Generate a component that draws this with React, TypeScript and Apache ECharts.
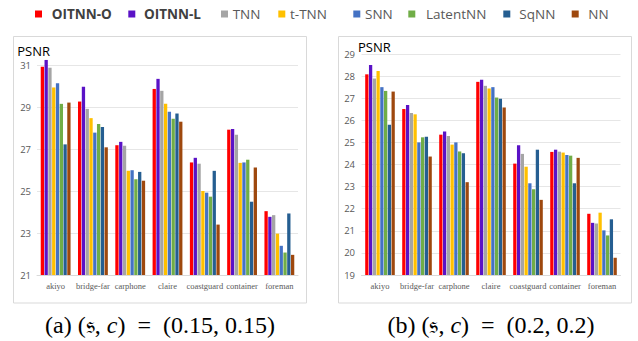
import React, { useEffect, useRef } from "react";
import * as echarts from "echarts";

const categories = ["akiyo", "bridge-far", "carphone", "claire", "coastguard", "container", "foreman"];
const methods = ["OITNN-O", "OITNN-L", "TNN", "t-TNN", "SNN", "LatentNN", "SqNN", "NN"];
const colors = ["#ff0000", "#5a12c6", "#a5a5a5", "#ffc000", "#4472c4", "#70ad47", "#255e91", "#9e480e"];

// (s, c) = (0.15, 0.15)
const leftOITNNO = [30.92, 29.26, 27.18, 29.86, 26.36, 27.92, 24.04];
const leftOITNNL = [31.24, 29.97, 27.34, 30.34, 26.58, 27.95, 23.77];
const leftTNN = [30.87, 28.91, 27.15, 29.77, 26.3, 27.68, 23.85];
const leftTTNN = [29.93, 28.47, 25.96, 29.15, 25.0, 26.34, 22.97];
const leftSNN = [30.13, 27.78, 25.99, 28.77, 24.92, 26.36, 22.39];
const leftLatentNN = [29.15, 28.19, 25.56, 28.44, 24.73, 26.49, 22.07];
const leftSqNN = [27.22, 28.05, 25.91, 28.69, 25.96, 24.49, 23.93];
const leftNN = [29.21, 27.08, 25.49, 28.3, 23.4, 26.12, 21.96];

// (s, c) = (0.2, 0.2)
const rightOITNNO = [28.08, 26.51, 25.35, 27.74, 24.04, 24.57, 21.77];
const rightOITNNL = [28.5, 26.69, 25.49, 27.83, 24.87, 24.67, 21.36];
const rightTNN = [27.89, 26.33, 25.29, 27.56, 24.48, 24.58, 21.33];
const rightTTNN = [28.23, 26.27, 24.9, 27.44, 23.9, 24.54, 21.82];
const rightSNN = [27.5, 25.0, 25.0, 27.5, 23.15, 24.43, 21.02];
const rightLatentNN = [27.33, 25.23, 24.59, 27.03, 22.88, 24.4, 20.79];
const rightSqNN = [25.8, 25.26, 24.51, 26.97, 24.67, 23.15, 21.52];
const rightNN = [27.3, 24.36, 23.2, 26.58, 22.4, 24.3, 19.78];

const leftData = [leftOITNNO, leftOITNNL, leftTNN, leftTTNN, leftSNN, leftLatentNN, leftSqNN, leftNN];
const rightData = [rightOITNNO, rightOITNNL, rightTNN, rightTTNN, rightSNN, rightLatentNN, rightSqNN, rightNN];

// left axis: labelled ticks 21..31 step 2, plot area extends slightly above 31
const leftTickValues = [21, 23, 25, 27, 29, 31];
const leftAxisMin = 21;
const leftAxisTop = 31.4;
const rightTicks = { min: 19, max: 29, interval: 1 };

const yTitle = "PSNR";
const captionA = "(a) (\u{1D530}, {i|c})  =  (0.15, 0.15)";
const captionB = "(b) (\u{1D530}, {i|c})  =  (0.2, 0.2)";

const legendSquareX = [35, 128.3, 221, 278.3, 353.3, 408.3, 503.3, 571.7];
const legendTextX = [51.7, 144, 232.7, 290, 365, 426, 519.3, 588.3];

export default function App() {
  const ref = useRef<HTMLDivElement>(null);
  useEffect(() => {
    if (!ref.current) return;
    const chart = echarts.init(ref.current, null, { renderer: "svg" });
    const labelGrey = "#595959";
    const gridGrey = "#e6e6e6";
    const sans = "'Open Sans', 'Noto Sans', sans-serif";
    const serif = "'Liberation Serif', 'DejaVu Serif', serif";

    const legends = methods.map((m, i) => ({
      data: [m],
      left: legendSquareX[i],
      top: 6,
      padding: 0,
      itemGap: 0,
      itemWidth: 7,
      itemHeight: 7,
      icon: "rect",
      selectedMode: false,
      textStyle: {
        fontFamily: sans,
        fontSize: 13.5,
        lineHeight: 16,
        color: i < 2 ? "#404040" : labelGrey,
        fontWeight: i < 2 ? "bold" : "normal",
        padding: [0, 0, 0, legendTextX[i] - legendSquareX[i] - 12],
      },
    }));

    const xAxisBase = {
      type: "category" as const,
      data: categories,
      axisTick: { show: false },
      axisLine: { lineStyle: { color: "#d9d9d9", width: 1 } },
      axisLabel: { fontFamily: serif, fontSize: 8.5, color: labelGrey, margin: 6, interval: 0 },
      z: 5,
    };

    const series: any[] = [];
    methods.forEach((m, i) => {
      const s: any = {
        name: m,
        type: "bar",
        xAxisIndex: 0,
        yAxisIndex: 0,
        data: leftData[i],
        itemStyle: { color: colors[i] },
        barGap: "15%",
        barCategoryGap: "20%",
      };
      if (i === 0) {
        s.markLine = {
          silent: true,
          symbol: "none",
          label: { show: false },
          lineStyle: { color: gridGrey, width: 1, type: "solid" },
          z: 0,
          data: leftTickValues.filter((v) => v !== leftAxisMin).map((v) => ({ yAxis: v })),
        };
      }
      series.push(s);
    });
    methods.forEach((m, i) => {
      series.push({
        name: m,
        type: "bar",
        xAxisIndex: 1,
        yAxisIndex: 1,
        data: rightData[i],
        itemStyle: { color: colors[i] },
        barGap: "15%",
        barCategoryGap: "20%",
      });
    });

    const leftTickSet = new Set(leftTickValues);
    const capFont = 24;

    chart.setOption({
      animation: false,
      backgroundColor: "#ffffff",
      legend: legends,
      grid: [
        { left: 37, top: 56.6, width: 261, height: 218.4 },
        { left: 361.5, top: 54, width: 259, height: 221 },
      ],
      xAxis: [
        { ...xAxisBase, gridIndex: 0 },
        { ...xAxisBase, gridIndex: 1 },
      ],
      yAxis: [
        {
          type: "value",
          gridIndex: 0,
          min: leftAxisMin,
          max: leftAxisTop,
          interval: 2,
          axisLine: { show: false },
          axisTick: { show: false },
          splitLine: { show: false },
          axisLabel: {
            fontFamily: sans, fontSize: 9.5, color: labelGrey, margin: 6,
            formatter: (v: number) => (leftTickSet.has(Math.round(v * 100) / 100) ? String(v) : ""),
          },
        },
        {
          type: "value",
          gridIndex: 1,
          ...rightTicks,
          axisLine: { show: false },
          axisTick: { show: false },
          splitLine: { lineStyle: { color: gridGrey, width: 1 } },
          axisLabel: { fontFamily: sans, fontSize: 9.5, color: labelGrey, margin: 6.5 },
        },
      ],
      series,
      graphic: [
        { type: "rect", z: -10, shape: { x: 13.5, y: 36.5, width: 293, height: 266.5 }, style: { fill: "none", stroke: "#d9d9d9", lineWidth: 1 } },
        { type: "rect", z: -10, shape: { x: 338.5, y: 36.5, width: 293, height: 266.5 }, style: { fill: "none", stroke: "#d9d9d9", lineWidth: 1 } },
        { type: "text", x: 17.3, y: 51, style: { text: yTitle, fontFamily: sans, fontSize: 13, fill: "#000000", verticalAlign: "middle", align: "left" } },
        { type: "text", x: 358, y: 46.5, style: { text: yTitle, fontFamily: sans, fontSize: 13, fill: "#000000", verticalAlign: "middle", align: "left" } },
        {
          type: "text", x: 160, y: 325,
          style: { text: captionA, fontFamily: serif, fontSize: capFont, fill: "#000000", align: "center", verticalAlign: "middle", rich: { i: { fontStyle: "italic", fontFamily: serif, fontSize: capFont } } },
        },
        {
          type: "text", x: 491, y: 325,
          style: { text: captionB, fontFamily: serif, fontSize: capFont, fill: "#000000", align: "center", verticalAlign: "middle", rich: { i: { fontStyle: "italic", fontFamily: serif, fontSize: capFont } } },
        },
      ],
    });
    return () => chart.dispose();
  }, []);
  return <div ref={ref} style={{ position: "fixed", left: 0, top: 0, width: 638, height: 341, background: "#fff" }} />;
}
